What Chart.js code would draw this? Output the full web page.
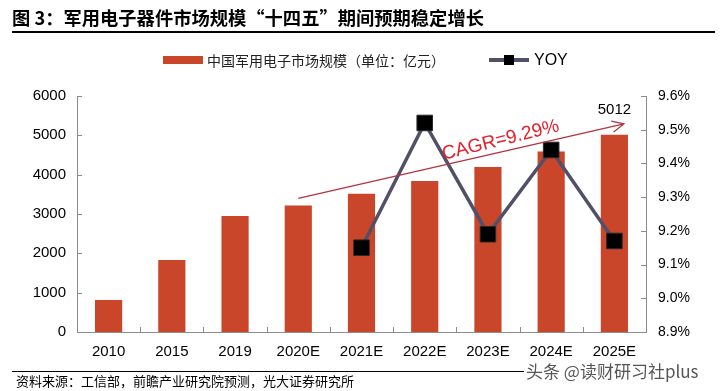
<!DOCTYPE html>
<html>
<head>
<meta charset="utf-8">
<script src="https://cdn.jsdelivr.net/npm/chart.js@4/dist/chart.umd.min.js"></script>
<style>
  body { margin: 0; background: #fff; }
  #wrap { position: relative; width: 726px; height: 391px; overflow: hidden; font-family: "Liberation Sans", Arial, sans-serif; }
  #chart { position: absolute; left: 0; top: 0; }
  .abs { position: absolute; white-space: nowrap; }
  #title { left: 12px; top: 5px; font: bold 18.3px "Noto Sans CJK SC", sans-serif; color: #000; line-height: 24px; }
  #titleLine { left: 12px; top: 31px; width: 703px; height: 2px; background: #000; }
  #legBar { left: 163px; top: 56px; width: 40px; height: 8px; background: #c9462b; }
  #legBarText { left: 207px; top: 50px; font: 14px "Noto Sans CJK SC", sans-serif; line-height: 20px; color: #222; }
  #legLine { left: 489px; top: 58px; width: 40px; height: 4px; background: #505068; }
  #legSq { left: 504px; top: 55px; width: 10px; height: 10px; background: #000; }
  #legLineText { left: 534px; top: 50px; font: 16px "Liberation Sans", Arial, sans-serif; line-height: 20px; color: #000; }
  #srcLine { left: 12px; top: 371px; width: 512px; height: 1px; background: #000; }
  #src { left: 16px; top: 372px; font: 13px "Noto Sans CJK SC", sans-serif; line-height: 18px; color: #000; }
  #wm { left: 526px; top: 360px; font: 17px "Noto Sans CJK SC", sans-serif; line-height: 22px; color: #555;
        text-shadow: -1px 0 #fff, 1px 0 #fff, 0 -1px #fff, 0 1px #fff; }
</style>
</head>
<body>
<div id="wrap">
  <canvas id="chart" width="726" height="391"></canvas>
  <div class="abs" id="title">图 3：军用电子器件市场规模“十四五”期间预期稳定增长</div>
  <div class="abs" id="titleLine"></div>
  <div class="abs" id="legBar"></div>
  <div class="abs" id="legBarText">中国军用电子市场规模（单位：亿元）</div>
  <div class="abs" id="legLine"></div>
  <div class="abs" id="legSq"></div>
  <div class="abs" id="legLineText">YOY</div>
  <div class="abs" id="srcLine"></div>
  <div class="abs" id="src">资料来源：工信部，前瞻产业研究院预测，光大证券研究所</div>
  <div class="abs" id="wm">头条 @读财研习社plus</div>
</div>
<script>
  // data
  const years = ["2010", "2015", "2019", "2020E", "2021E", "2022E", "2023E", "2024E", "2025E"];
  const marketSize = [815, 1830, 2950, 3214, 3513, 3840, 4196, 4586, 5012];
  const yoy = [null, null, null, null, 9.15, 9.52, 9.19, 9.44, 9.17];
  const leftTicks = [0, 1000, 2000, 3000, 4000, 5000, 6000];
  const rightTicks = [8.9, 9.0, 9.1, 9.2, 9.3, 9.4, 9.5, 9.6];
  // CAGR arrow ends: [category position, left-axis value]
  const cagrFrom = [3, 3400];
  const cagrTo = [8.15, 5290];
  const cagrText = "CAGR=9.29%";

  const barColor = "#c9462b";
  const lineColor = "#505068";
  const axisColor = "#8c8c8c";

  // small tick marks drawn inside the plot, like the original
  const innerTicks = {
    id: "innerTicks",
    afterDraw(chart) {
      const { ctx, chartArea: a, scales } = chart;
      ctx.save();
      ctx.strokeStyle = axisColor;
      ctx.lineWidth = 1;
      ctx.beginPath();
      leftTicks.forEach((v) => {
        const y = Math.round(scales.y.getPixelForValue(v)) + 0.5;
        ctx.moveTo(a.left, y); ctx.lineTo(a.left + 5, y);
      });
      rightTicks.forEach((v) => {
        const y = Math.round(scales.y1.getPixelForValue(v)) + 0.5;
        ctx.moveTo(a.right, y); ctx.lineTo(a.right - 5, y);
      });
      for (let i = 0; i <= years.length; i++) {
        const x = Math.round(scales.x.getPixelForValue(i - 0.5)) + 0.5;
        ctx.moveTo(x, a.bottom); ctx.lineTo(x, a.bottom - 5);
      }
      ctx.stroke();
      ctx.restore();
    }
  };

  // CAGR arrow + text and the 5012 label
  const notes = {
    id: "notes",
    afterDatasetsDraw(chart) {
      const { ctx, scales } = chart;
      const x0 = scales.x.getPixelForValue(cagrFrom[0]);
      const y0 = scales.y.getPixelForValue(cagrFrom[1]);
      const x1 = scales.x.getPixelForValue(cagrTo[0]);
      const y1 = scales.y.getPixelForValue(cagrTo[1]);
      const ang = Math.atan2(y1 - y0, x1 - x0);
      ctx.save();
      ctx.strokeStyle = "#b3333f";
      ctx.lineWidth = 1.3;
      ctx.beginPath();
      ctx.moveTo(x0, y0); ctx.lineTo(x1, y1);
      ctx.moveTo(x1 - 13 * Math.cos(ang - 0.45), y1 - 13 * Math.sin(ang - 0.45));
      ctx.lineTo(x1, y1);
      ctx.lineTo(x1 - 13 * Math.cos(ang + 0.45), y1 - 13 * Math.sin(ang + 0.45));
      ctx.stroke();

      // text sits above the middle of the arrow
      const mx = x0 + (x1 - x0) * 0.63, my = y0 + (y1 - y0) * 0.63;
      ctx.translate(mx, my);
      ctx.rotate(ang - 0.02);
      ctx.fillStyle = "#e5202b";
      ctx.font = "19px 'Liberation Sans', Arial, sans-serif";
      ctx.textAlign = "center";
      ctx.textBaseline = "bottom";
      ctx.fillText(cagrText, 0, -2);
      ctx.restore();

      const last = years.length - 1;
      const bar = chart.getDatasetMeta(0).data[last];
      ctx.save();
      ctx.fillStyle = "#000";
      ctx.font = "15px 'Liberation Sans', Arial, sans-serif";
      ctx.textAlign = "center";
      ctx.textBaseline = "bottom";
      ctx.fillText(String(marketSize[last]), bar.x, bar.y - 18);
      ctx.restore();
    }
  };

  new Chart(document.getElementById("chart"), {
    data: {
      labels: years,
      datasets: [
        {
          type: "bar",
          label: "中国军用电子市场规模（单位：亿元）",
          data: marketSize,
          backgroundColor: barColor,
          yAxisID: "y",
          categoryPercentage: 1,
          barPercentage: 0.43,
          order: 2
        },
        {
          type: "line",
          label: "YOY",
          data: yoy,
          yAxisID: "y1",
          borderColor: lineColor,
          borderWidth: 3.5,
          pointStyle: "rect",
          pointRadius: 11,
          pointBackgroundColor: "#000",
          pointBorderColor: "#2a2a2a",
          pointBorderWidth: 1,
          tension: 0,
          order: 1
        }
      ]
    },
    options: {
      responsive: false,
      animation: false,
      devicePixelRatio: 1,
      layout: { padding: { top: 96, left: 0, right: 0, bottom: 0 } },
      plugins: {
        legend: { display: false },
        tooltip: { enabled: false }
      },
      scales: {
        x: {
          grid: { display: false, drawTicks: false },
          border: { display: true, color: axisColor, width: 1 },
          ticks: { color: "#000", font: { size: 15, family: "'Liberation Sans', Arial" }, padding: 11, maxRotation: 0 },
          afterFit: (s) => { s.height = 59; }
        },
        y: {
          position: "left",
          min: 0,
          max: 6000,
          grid: { display: false, drawTicks: false },
          border: { display: true, color: axisColor, width: 1 },
          ticks: {
            stepSize: 1000,
            color: "#000",
            font: { size: 15, family: "'Liberation Sans', Arial" },
            padding: 11,
            callback: (v) => String(v)
          },
          afterFit: (s) => { s.width = 77; }
        },
        y1: {
          position: "right",
          min: 8.9,
          max: 9.6,
          grid: { display: false, drawTicks: false },
          border: { display: true, color: axisColor, width: 1 },
          ticks: {
            stepSize: 0.1,
            color: "#000",
            font: { size: 14, family: "'Liberation Sans', Arial" },
            padding: 12,
            callback: (v) => v.toFixed(1) + "%"
          },
          afterFit: (s) => { s.width = 80; }
        }
      }
    },
    plugins: [innerTicks, notes]
  });
</script>
</body>
</html>
